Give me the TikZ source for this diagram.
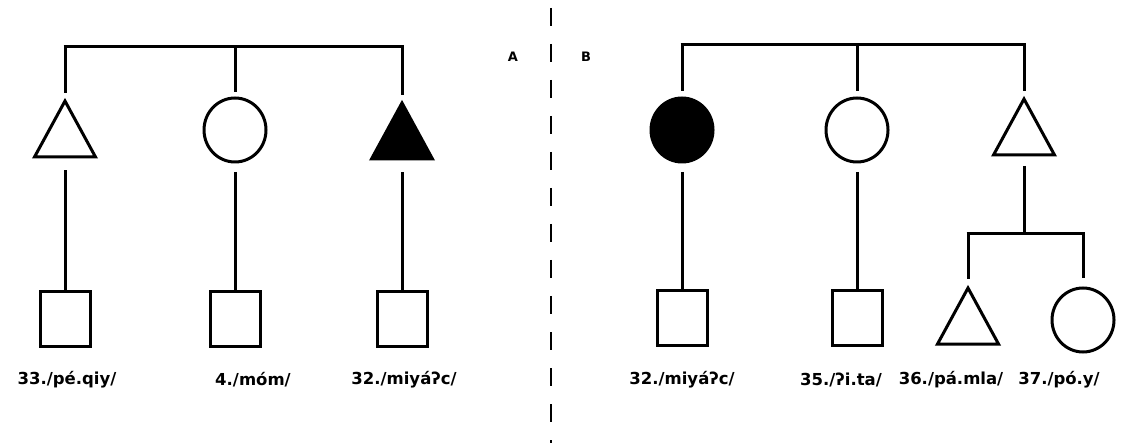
\documentclass[tikz,border=0pt]{standalone}
\usepackage{fontspec}
\setmainfont{DejaVu Sans}
\usetikzlibrary{shapes.geometric}
\tikzset{
  conn/.style={line width=3pt, line cap=butt},
  tri/.style={isosceles triangle, isosceles triangle stretches, shape border rotate=90,
    minimum width=61pt, minimum height=56pt, inner sep=0pt, outer sep=0pt, draw, line width=3pt, line join=miter},
  circ/.style={ellipse, minimum width=62pt, minimum height=64pt, inner sep=0pt, outer sep=0pt, draw, line width=3pt},
  sq/.style={rectangle, minimum width=50pt, minimum height=54pt, inner sep=0pt, outer sep=0pt, draw, line width=3pt},
  lab/.style={font=\fontsize{16.5}{18}\selectfont\bfseries, inner sep=0pt},
  side/.style={font=\fontsize{13}{14}\selectfont\bfseries, inner sep=0pt},
}
\begin{document}
\begin{tikzpicture}[x=1pt,y=-1pt]
\useasboundingbox (0,0) rectangle (1139,443);
% divider
\coordinate (dtop) at (551,8);
\coordinate (dbot) at (551,443);
\draw[line width=2.2pt, dash pattern=on 18pt off 18pt] (dtop) -- (dbot);
\node[side] (A) at (513,57) {A};
\node[side] (B) at (586,57) {B};

% ---------- A ----------
\node[tri, anchor=north] (a1) at (65,101) {};
\node[circ] (a2) at (235,130) {};
\node[tri, anchor=north, fill=black] (a3) at (402,103) {};
\node[sq] (a4) at (65,319) {};
\node[sq] (a5) at (235,319) {};
\node[sq] (a6) at (402,319) {};
\coordinate (aL) at (65,47);
\coordinate (aM) at (235,47);
\coordinate (aR) at (402,47);
\draw[conn] ([xshift=-1.5pt]aL) -- ([xshift=1.5pt]aR);
\draw[conn, shorten >=8pt] ([yshift=1.5pt]aL) -- (a1.north);
\draw[conn, shorten >=6pt] (aM) -- (a2.north);
\draw[conn, shorten >=8pt] ([yshift=1.5pt]aR) -- (a3.north);
\draw[conn, shorten <=13pt] (a1.south) -- (a4.north);
\draw[conn, shorten <=10pt] (a2.south) -- (a5.north);
\draw[conn, shorten <=13pt] (a3.south) -- (a6.north);
\node[lab] (l1) at (67,380) {33./pé.qiy/};
\node[lab] (l2) at (253,380) {4./móm/};
\node[lab] (l3) at (404,380) {32./miyáʔc/};

% ---------- B ----------
\node[circ, fill=black] (b1) at (682,130) {};
\node[circ] (b2) at (857,130) {};
\node[tri, anchor=north] (b3) at (1024,99) {};
\node[sq] (b4) at (682,318) {};
\node[sq] (b5) at (857,318) {};
\node[tri, anchor=north] (b6) at (968,288) {};
\node[circ] (b7) at (1083,320) {};
\coordinate (bL) at (682,45);
\coordinate (bM) at (857,45);
\coordinate (bR) at (1024,45);
\draw[conn] ([xshift=-1.5pt]bL) -- ([xshift=1.5pt]bR);
\draw[conn, shorten >=7pt] ([yshift=1.5pt]bL) -- (b1.north);
\draw[conn, shorten >=7pt] (bM) -- (b2.north);
\draw[conn, shorten >=8pt] ([yshift=1.5pt]bR) -- (b3.north);
\draw[conn, shorten <=10pt] (b1.south) -- (b4.north);
\draw[conn, shorten <=10pt] (b2.south) -- (b5.north);
\coordinate (cL) at (968,234);
\coordinate (cM) at (1024,234);
\coordinate (cR) at (1083,234);
\draw[conn, shorten <=11pt] (b3.south) -- (cM);
\draw[conn] ([xshift=-1.5pt]cL) -- ([xshift=1.5pt]cR);
\draw[conn, shorten >=9pt] ([yshift=1.5pt]cL) -- (b6.north);
\draw[conn, shorten >=10pt] ([yshift=1.5pt]cR) -- (b7.north);
\node[lab] (l4) at (682,380) {32./miyáʔc/};
\node[lab] (l5) at (841,380) {35./ʔi.ta/};
\node[lab] (l6) at (951,380) {36./pá.mla/};
\node[lab] (l7) at (1059,380) {37./pó.y/};
\end{tikzpicture}
\end{document}
